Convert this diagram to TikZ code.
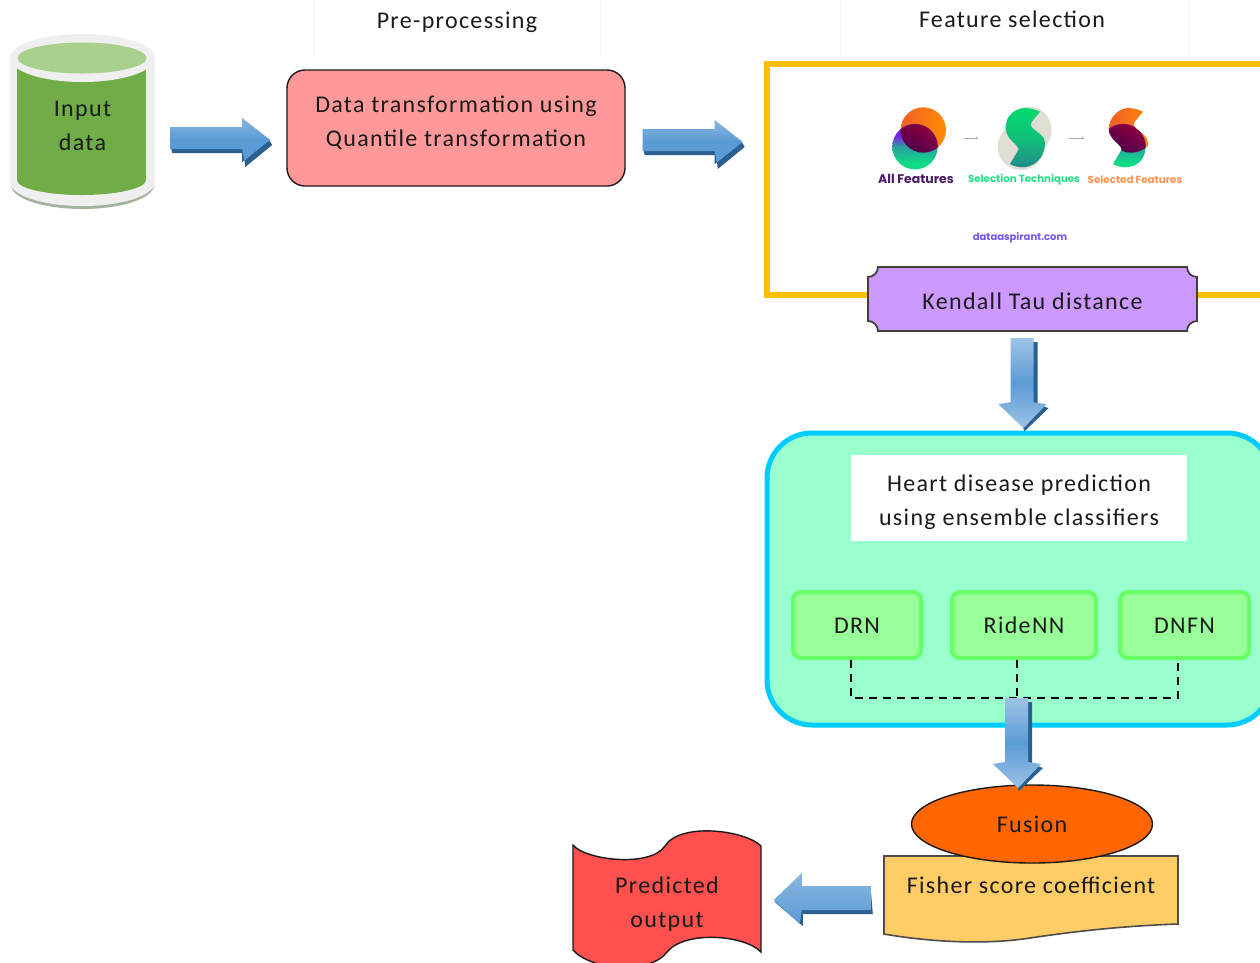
\documentclass[tikz,border=0pt]{standalone}
\usepackage{fontspec}
\setmainfont[LetterSpace=5.5]{Carlito}
\newfontfamily\logofont[Ligatures=TeX]{Poppins}
\usetikzlibrary{calc,shapes.geometric,arrows.meta}
\definecolor{blueM}{HTML}{5B9BD5}
\definecolor{blueL}{HTML}{9DC3E6}
\definecolor{blueD}{HTML}{2A5F8F}
\definecolor{ink}{HTML}{1A1A1A}
\definecolor{cylG}{HTML}{70AD47}
\definecolor{cylT}{HTML}{A9D18E}
\definecolor{cylE}{HTML}{EFEFEF}
\definecolor{cylS}{HTML}{A6B39C}
\definecolor{boxR}{HTML}{FF9999}
\definecolor{boxY}{HTML}{FFC000}
\definecolor{beige}{HTML}{E0DDD3}
\definecolor{sTop}{HTML}{00DD6E}
\definecolor{sMid}{HTML}{10C078}
\definecolor{sBot}{HTML}{247F8F}
\definecolor{tA}{HTML}{4A1D66}
\definecolor{tB}{HTML}{22DD88}
\definecolor{tC}{HTML}{FF9350}
\definecolor{tD}{HTML}{7558F0}
\definecolor{plaque}{HTML}{CC99FF}
\definecolor{ensB}{HTML}{00CCFF}
\definecolor{ensF}{HTML}{99FFCC}
\definecolor{clsF}{HTML}{99FF99}
\definecolor{clsB}{HTML}{66FF66}
\definecolor{fish}{HTML}{FFCC66}
\definecolor{fus}{HTML}{FF6600}
\definecolor{pred}{HTML}{FF5050}
\definecolor{orgA}{HTML}{F0602A}
\definecolor{orgB}{HTML}{FF8C00}
\definecolor{midA}{HTML}{8A0040}
\definecolor{midB}{HTML}{2A0055}
\definecolor{cirA}{HTML}{7A22E8}
\definecolor{cirB}{HTML}{2A9FA0}
\definecolor{cirC}{HTML}{10DD85}
\pgfdeclareverticalshading{lowercircle}{100bp}{
  color(0bp)=(cirC); color(32bp)=(cirC); color(50bp)=(cirB); color(62bp)=(cirA); color(100bp)=(cirA)}
\tikzset{
  lbl/.style={font=\fontsize{24}{34}\selectfont,align=center,text=ink,inner sep=0pt},
  logotxt/.style={inner sep=0pt},
  classifier/.style={lbl,draw=clsB,fill=clsF,line width=4pt,rounded corners=8pt,text height=16pt,text depth=0pt},
  rarrowpic/.pic={
    \fill[blueD] (0,4) -- (72,4) -- (72,-6) -- (75,27) -- (102,5) -- (99,0) -- (72,22) -- (72,13) -- (2,13) -- cycle;
    \shade[top color=blueL!70!blueM,bottom color=blueM,middle color=blueM] (0,-13) -- (72,-13) -- (72,-22) -- (100,0) -- (74,20) -- (72,9) -- (0,9) -- cycle;
  },
  larrowpic/.pic={
    \fill[blueD] (0,-10) -- (2,14) -- (-68,14) -- (-68,26) -- (-96,2) -- (-93,-2) -- cycle;
    \shade[top color=blueL!70!blueM,bottom color=blueM] (0,-14) -- (-69,-14) -- (-69,-27) -- (-97,0) -- (-71,24) -- (-69,10) -- (0,10) -- cycle;
  },
  darrowpic/.pic={
    \fill[blueD] (20,4) -- (27,4) -- (27,66) -- (38,70) -- (14,93) -- (12,88) -- cycle;
    \shade[top color=blueL,bottom color=blueL,middle color=blueM] (0,0) -- (23,0) -- (23,64) -- (36,66) -- (13,90) -- (-12,66) -- (0,64) -- cycle;
  },
}
\newcommand{\Spath}{(180,21.7) .. controls (163.3,13.3) and (145.7,20) .. (145.7,38.3) .. controls (145.7,50) and (160,55) .. (158.3,60) -- (150,74) .. controls (166.7,83.3) and (185,71.7) .. (185,53.3) .. controls (185,41.7) and (166.7,40) .. (171.7,31.7) -- cycle}
\newcommand{\Logocircles}{%
  \shade[left color=orgA,right color=orgB] (63.3,40) circle (22.7);
  \shade[shading=lowercircle] (55,56.7) circle (22.7);
  \begin{scope}
    \clip (63.3,40) circle (22.7);
    \shade[left color=midA,right color=midB,shading angle=-30] (55,56.7) circle (22.7);
  \end{scope}
}
\begin{document}
\begin{tikzpicture}[x=1pt,y=-1pt]
\useasboundingbox (0,0) rectangle (1260,962);
\fill[white] (0,0) rectangle (1260,962);
\foreach \xx in {314,600,840,1188}{\draw[black!4,line width=.6pt] (\xx,0) -- (\xx,55);}
\node[lbl] (pre) at (457,22) {Pre-processing};
\node[lbl] (feat) at (1012,19) {Feature selection};
% cylinder
\fill[cylS] (82.5,185) ellipse (71.5 and 24);
\fill[cylE] (82.5,182) ellipse (72.5 and 24);
\fill[cylE] (10,58) rectangle (155,182);
\fill[cylG] (17,66) rectangle (146,180);
\fill[cylG] (81.5,180) ellipse (64.5 and 15);
\fill[cylE] (82.5,58) ellipse (72.5 and 24);
\fill[cylT] (82,58) ellipse (64.5 and 15.5);
\node[lbl,minimum width=145pt] (input) at (82.5,126) {Input\\data};
% preprocess
\node[lbl,draw=ink,fill=boxR,line width=1.4pt,rounded corners=18pt,minimum width=338pt,minimum height=116pt] (trans) at (456,128) {};
\node[lbl] (transtxt) at (456,123) {Data transformation using\\Quantile transformation};
% feature selection box
\draw[boxY,line width=5.5pt] (1270,64) -- (767,64) -- (767,295) -- (1270,295);
\begin{scope}[shift={(860,90)}]
  \Logocircles
  \fill[beige] (168.3,40) circle (23.3);
  \fill[beige] (161,56.7) circle (23.3);
  \shade[top color=sTop,bottom color=sBot,middle color=sMid] \Spath;
  \begin{scope}[shift={(103,0)}]
    \clip \Spath;
    \begin{scope}[shift={(105,0)}]\Logocircles\end{scope}
  \end{scope}
\end{scope}
\node[logotxt,text=tA,font=\logofont\bfseries\fontsize{12.5}{14}\selectfont] (allf) at (916,179) {All Features};
\node[logotxt,text=tB,font=\logofont\bfseries\fontsize{10.2}{12}\selectfont] (selt) at (1024,180) {Selection Techniques};
\node[logotxt,text=tC,font=\logofont\bfseries\fontsize{10.3}{12}\selectfont] (self) at (1135,180) {Selected Features};
\node[logotxt,text=tD,font=\logofont\bfseries\fontsize{10}{12}\selectfont] (das) at (1020,238) {dataaspirant.com};
\coordinate (g1a) at (964,138); \coordinate (g1b) at (978,138);
\coordinate (g2a) at (1069,138); \coordinate (g2b) at (1084,138);
\draw[black!35,line width=.7pt,-{Stealth[length=2pt,width=3pt]}] (g1a) -- (g1b);
\draw[black!35,line width=.7pt,-{Stealth[length=2pt,width=3pt]}] (g2a) -- (g2b);
% Kendall plaque
\draw[draw=black!75,fill=plaque,line width=1.8pt] (878,267) -- (1187,267) .. controls (1187,272.5) and (1191.5,277) .. (1197,277) -- (1197,321) .. controls (1191.5,321) and (1187,325.5) .. (1187,331) -- (878,331) .. controls (878,325.5) and (873.5,321) .. (868,321) -- (868,277) .. controls (873.5,277) and (878,272.5) .. (878,267) -- cycle;
\node[lbl,minimum width=329pt,minimum height=64pt] (kendall) at (1032.5,301) {Kendall Tau distance};
% ensemble
\draw[ensB,fill=ensF,line width=5pt,rounded corners=45pt] (767,433) rectangle (1272,725);
\node[lbl,fill=white,minimum width=336pt,minimum height=86pt] (heart) at (1019,498) {};
\node[lbl] (hearttxt) at (1019,502) {Heart disease prediction\\using ensemble classifiers};
\node[classifier,minimum width=128pt,minimum height=66pt] (drn) at (857,625) {DRN};
\node[classifier,minimum width=144pt,minimum height=66pt] (ride) at (1024,625) {RideNN};
\node[classifier,minimum width=129pt,minimum height=66pt] (dnfn) at (1184.5,625) {DNFN};
\coordinate (d1) at ($(drn.south)+(-6,38)$);
\coordinate (d2) at ($(ride.south)+(-7,38)$);
\coordinate (d3) at ($(dnfn.south)+(-6.5,38)$);
\draw[black,line width=2.6pt,dash pattern=on 8pt off 6pt] ([xshift=-6pt]drn.south) -- (d1) -- (d3) -- ([xshift=-6.5pt]dnfn.south);
\draw[black,line width=2.6pt,dash pattern=on 8pt off 6pt] ([xshift=-7pt]ride.south) -- (d2);
% Fisher & fusion
\draw[draw=black!70,fill=fish,line width=1.6pt] (884,856) -- (1178,856) -- (1178,924) .. controls (1120,926) and (1070,932) .. (1030,938) .. controls (985,945) and (930,942) .. (884,934) -- cycle;
\node[lbl,minimum width=294pt,minimum height=40pt] (fisher) at (1031,885) {Fisher score coefficient};
\node[lbl,draw=ink,fill=fus,ellipse,line width=1.4pt,minimum width=241pt,minimum height=78pt,inner sep=0pt] (fusion) at (1032,824) {Fusion};
% Predicted
\draw[draw=ink,fill=pred,line width=1.4pt] (573,845) .. controls (585,860) and (650,868) .. (665,846) .. controls (680,822) and (745,830) .. (761,846) -- (761,952) .. controls (745,935) and (685,930) .. (667,952) .. controls (650,975) and (590,970) .. (573,950) -- cycle;
\node[lbl] (predn) at (667,904) {Predicted\\output};
% block arrows
\pic at ($(input.east)+(15,14)$) {rarrowpic};
\pic at ($(trans.east)+(17,14)$) {rarrowpic};
\pic at ($(kendall.south)+(-22,5)$) {darrowpic};
\pic at ($(ride.south)+(-19,38)$) {darrowpic};
\pic at ($(fisher.west)+(-13,15)$) {larrowpic};
\end{tikzpicture}
\end{document}
